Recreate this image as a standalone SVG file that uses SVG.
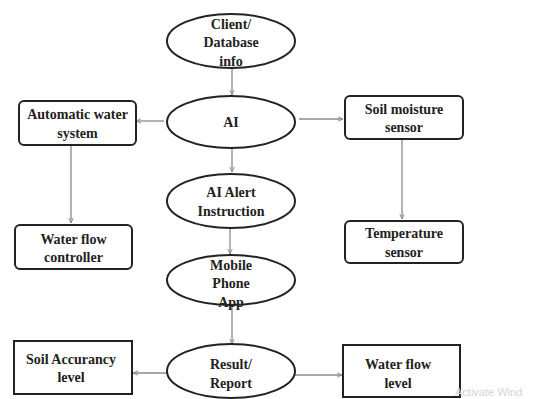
<svg xmlns="http://www.w3.org/2000/svg" width="548" height="399" viewBox="0 0 548 399">
<style>
.n{fill:#fff;stroke:#222;stroke-width:2}
.t{font-family:"Liberation Serif","Times New Roman",serif;font-weight:bold;font-size:14px;fill:#222;text-anchor:middle}
.c{stroke:#8a8a8a;stroke-width:1.3;fill:none;marker-end:url(#a)}
</style>
<defs>
<marker id="a" viewBox="0 0 10 10" refX="9" refY="5" markerWidth="6" markerHeight="6" orient="auto" markerUnits="userSpaceOnUse">
<path d="M0,1 L9,5 L0,9" fill="none" stroke="#8a8a8a" stroke-width="1.5"/>
</marker>
</defs>
<rect width="548" height="399" fill="#fff"/>
<g id="connectors">
<line class="c" x1="232" y1="68" x2="232" y2="95"/>
<line class="c" x1="164" y1="121" x2="136" y2="121"/>
<line class="c" x1="299" y1="119" x2="343" y2="119"/>
<line class="c" x1="232" y1="148" x2="232" y2="172"/>
<line class="c" x1="71" y1="146" x2="71" y2="223"/>
<line class="c" x1="402" y1="140" x2="402" y2="219"/>
<line class="c" x1="230" y1="228" x2="230" y2="254"/>
<line class="c" x1="232" y1="305" x2="232" y2="344"/>
<line class="c" x1="167" y1="373" x2="133" y2="373"/>
<line class="c" x1="295" y1="375" x2="342" y2="375"/>
</g>
<g id="client">
<ellipse class="n" cx="231" cy="41" rx="64" ry="27"/>
<text class="t" x="231" y="29">Client/</text>
<text class="t" x="231" y="47">Database</text>
<text class="t" x="231" y="66">info</text>
</g>
<g id="ai">
<ellipse class="n" cx="231" cy="122" rx="64" ry="26"/>
<text class="t" x="231" y="127">AI</text>
</g>
<g id="auto">
<rect class="n" x="19" y="101" width="117" height="44" rx="5"/>
<text class="t" x="77.5" y="119">Automatic water</text>
<text class="t" x="77.5" y="138">system</text>
</g>
<g id="soilmoisture">
<rect class="n" x="345" y="96" width="118" height="43" rx="5"/>
<text class="t" x="404" y="114">Soil moisture</text>
<text class="t" x="404" y="132">sensor</text>
</g>
<g id="alert">
<ellipse class="n" cx="231" cy="201" rx="64" ry="27"/>
<text class="t" x="231" y="197">AI Alert</text>
<text class="t" x="231" y="216">Instruction</text>
</g>
<g id="controller">
<rect class="n" x="15" y="225" width="117" height="44" rx="5"/>
<text class="t" x="73.5" y="244">Water flow</text>
<text class="t" x="73.5" y="262">controller</text>
</g>
<g id="temperature">
<rect class="n" x="345" y="221" width="118" height="42" rx="5"/>
<text class="t" x="404" y="238">Temperature</text>
<text class="t" x="404" y="257">sensor</text>
</g>
<g id="mobile">
<ellipse class="n" cx="231" cy="280" rx="64" ry="25"/>
<text class="t" x="231" y="270">Mobile</text>
<text class="t" x="231" y="288">Phone</text>
<text class="t" x="231" y="307">App</text>
</g>
<g id="result">
<ellipse class="n" cx="231" cy="371" rx="64" ry="27"/>
<text class="t" x="231" y="369">Result/</text>
<text class="t" x="231" y="388">Report</text>
</g>
<g id="soilaccuracy">
<rect class="n" x="14" y="341" width="118" height="53"/>
<text class="t" x="71" y="364">Soil Accurancy</text>
<text class="t" x="71" y="382">level</text>
</g>
<g id="waterflowlevel">
<rect class="n" x="343" y="345" width="117" height="52"/>
<text class="t" x="398" y="369">Water flow</text>
<text class="t" x="398" y="388">level</text>
</g>
<text x="455" y="396" font-family="'Liberation Sans',Arial,sans-serif" font-size="11" fill="#d4d4d4">Activate Wind</text>
</svg>
